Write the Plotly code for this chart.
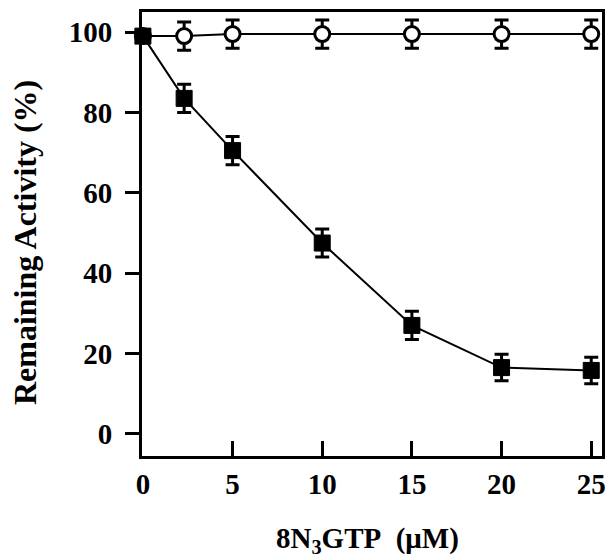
import plotly.graph_objects as go

# Data
x_open = [0, 2.3, 5, 10, 15, 20, 25]
y_open = [99, 99, 99.5, 99.5, 99.5, 99.5, 99.5]
err_open = [0, 3.5, 3.5, 3.5, 3.5, 3.5, 3.5]

x_filled = [0, 2.3, 5, 10, 15, 20, 25]
y_filled = [99, 83.5, 70.5, 47.5, 27, 16.5, 15.8]
err_filled = [0, 3.5, 3.5, 3.5, 3.5, 3.3, 3.3]

x_ticks = [0, 5, 10, 15, 20, 25]
y_ticks = [0, 20, 40, 60, 80, 100]

x_title = "<b>8N<sub>3</sub>GTP&nbsp;&nbsp;(μM)</b>"
y_title = "<b>Remaining Activity (%)</b>"

FONT = "Liberation Serif"

fig = go.Figure()
fig.add_trace(go.Scatter(
    x=x_open, y=y_open, mode="lines+markers",
    line=dict(color="black", width=2),
    marker=dict(symbol="circle", size=15, color="white",
                line=dict(color="black", width=3)),
    error_y=dict(type="data", array=err_open, visible=True,
                 color="black", thickness=3, width=7),
    cliponaxis=False, showlegend=False,
))
fig.add_trace(go.Scatter(
    x=x_filled, y=y_filled, mode="lines+markers",
    line=dict(color="black", width=2),
    marker=dict(symbol="square", size=16, color="black",
                line=dict(color="black", width=1)),
    error_y=dict(type="data", array=err_filled, visible=True,
                 color="black", thickness=3, width=7),
    cliponaxis=False, showlegend=False,
))

fig.update_layout(
    width=610, height=557,
    margin=dict(l=142, r=8, t=12, b=101),
    paper_bgcolor="white", plot_bgcolor="white",
    font=dict(family=FONT, color="black", size=28),
    xaxis=dict(
        range=[-0.05, 25.6], tickvals=x_ticks,
        ticks="inside", ticklen=15, tickwidth=3, tickcolor="black",
        showline=True, linewidth=3, linecolor="black", mirror=True,
        showgrid=False, zeroline=False, automargin=False,
        tickfont=dict(family=FONT, size=29, color="black", weight="bold"),
    ),
    yaxis=dict(
        range=[-5.5, 105], tickvals=y_ticks,
        ticks="outside", ticklen=14, tickwidth=3, tickcolor="black",
        ticklabelstandoff=7,
        showline=True, linewidth=3, linecolor="black", mirror=True,
        showgrid=False, zeroline=False, automargin=False,
        tickfont=dict(family=FONT, size=29, color="black", weight="bold"),
    ),
    annotations=[
        dict(text=x_title, xref="paper", yref="paper", x=0.49, y=-0.19,
             xanchor="center", yanchor="middle", showarrow=False,
             font=dict(family=FONT, size=29, color="black")),
        dict(text=y_title, xref="paper", yref="paper", x=-0.254, y=0.48,
             xanchor="center", yanchor="middle", showarrow=False,
             textangle=-90,
             font=dict(family=FONT, size=32, color="black")),
    ],
)

fig.write_html("out.html")
